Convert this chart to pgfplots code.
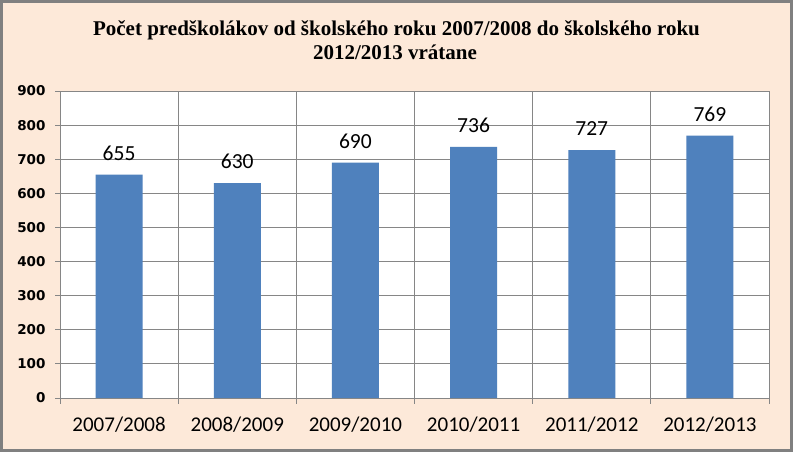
\documentclass[border=0pt]{standalone}
\usepackage{pgfplots}
\pgfplotsset{compat=1.18}
\usepackage{fontspec}
\setmainfont{Carlito}
\newfontfamily\titlefont{Liberation Serif}
\newfontfamily\yfont{DejaVu Sans}

\definecolor{peach}{HTML}{FDE9D9}
\definecolor{framegray}{HTML}{808080}
\definecolor{gridgray}{HTML}{868686}
\definecolor{barblue}{HTML}{4F81BD}

\begin{document}
\begin{tikzpicture}[x=1bp,y=1bp]
% chart area
\fill[peach] (0,0) rectangle (793,452);
\draw[framegray, line width=3bp] (1.5,1.5) rectangle (791.5,450.5);
% title
\node[anchor=base, inner sep=0, font=\titlefont\bfseries\fontsize{21bp}{24bp}\selectfont]
  at (396.5,416) {Počet predškolákov od školského roku 2007/2008 do školského roku};
\node[anchor=base, inner sep=0, font=\titlefont\bfseries\fontsize{21bp}{24bp}\selectfont]
  at (395,392) {2012/2013 vrátane};

\begin{axis}[
    at={(60bp,54bp)}, anchor=south west,
    scale only axis,
    width=709bp, height=307bp,
    axis background/.style={fill=white},
    /pgf/number format/assume math mode=true,
    xmin=-0.5, xmax=5.5,
    ymin=0, ymax=900,
    ytick={0,100,...,900},
    xtick={0,...,5},
    xticklabels={2007/2008,2008/2009,2009/2010,2010/2011,2011/2012,2012/2013},
    minor xtick={-0.5,0.5,...,5.5},
    xminorgrids, ymajorgrids,
    grid style={gridgray, line width=0.9bp},
    minor grid style={gridgray, line width=0.9bp},
    axis line style={gridgray, line width=0.9bp},
    tick style={gridgray, line width=0.9bp},
    major x tick style={draw=none},
    tick align=outside,
    major tick length=5bp,
    minor tick length=6bp,
    axis x line*=bottom, axis y line*=left,
    yticklabel style={font=\yfont\bfseries\fontsize{13.5bp}{15bp}\selectfont, xshift=-6bp},
    xticklabel style={font=\fontsize{21bp}{24bp}\selectfont, yshift=-10bp},
    ybar, bar width=47bp,
    nodes near coords,
    every node near coord/.append style={font=\fontsize{21.5bp}{25bp}\selectfont, anchor=south, inner sep=0pt, yshift=14bp},
]
\addplot[fill=barblue, draw=none] coordinates {
    (0,655) (1,630) (2,690) (3,736) (4,727) (5,769)
};
\end{axis}
\end{tikzpicture}
\end{document}
